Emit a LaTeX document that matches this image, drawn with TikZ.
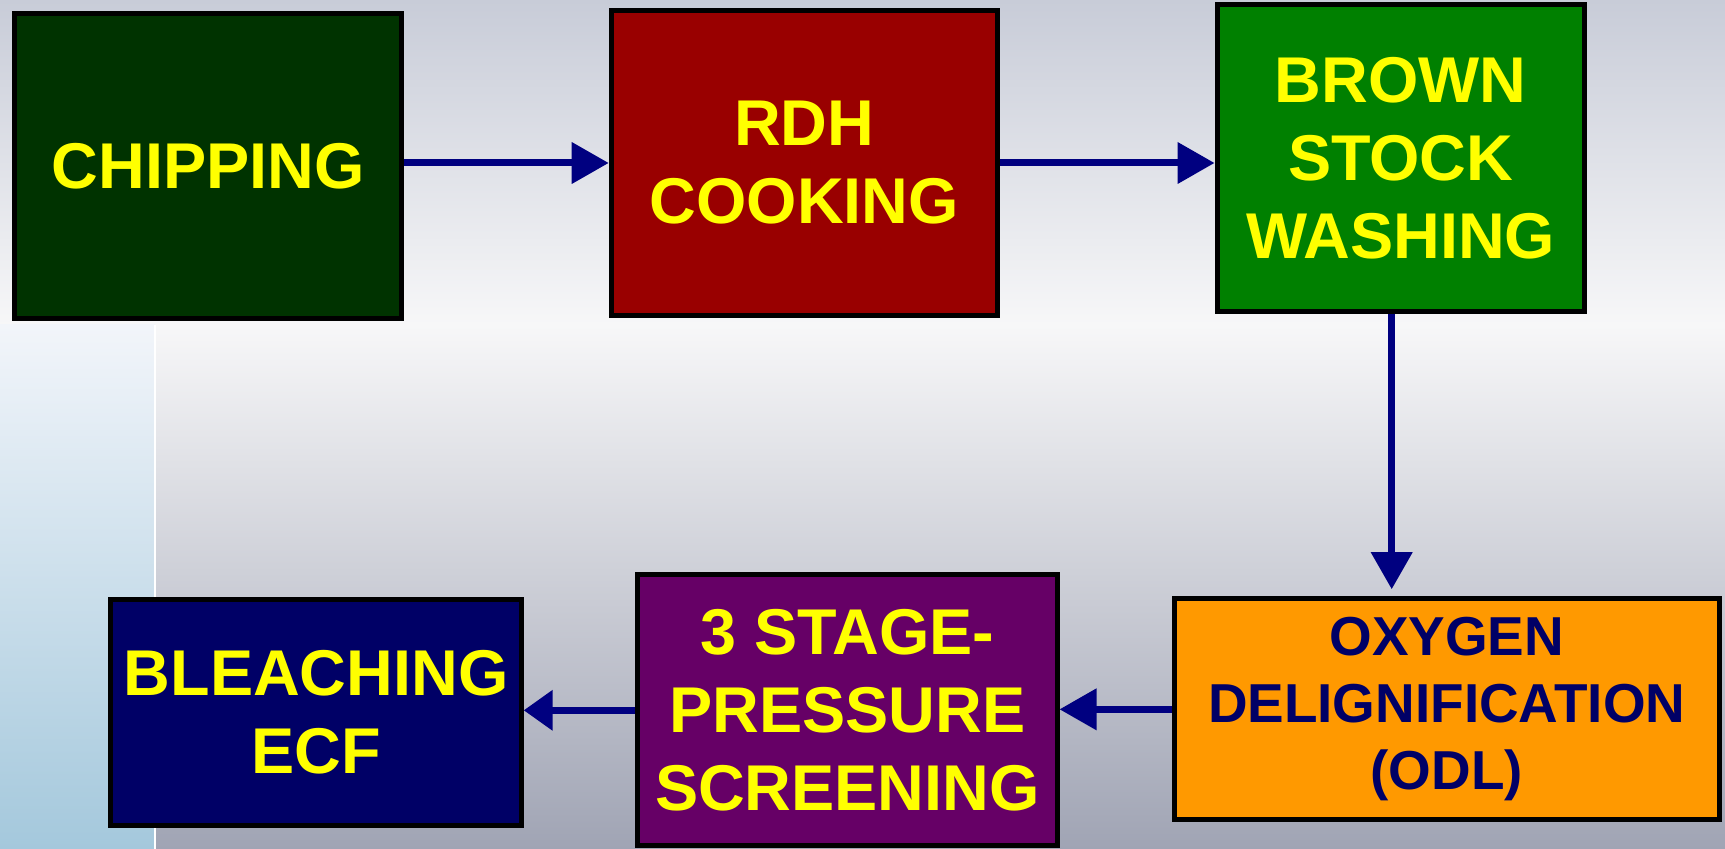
\documentclass[tikz,border=0pt]{standalone}
\usepackage{fontspec}
\setmainfont{Liberation Sans}
\usetikzlibrary{arrows.meta}

\definecolor{chipgreen}{HTML}{003300}
\definecolor{rdhred}{HTML}{990000}
\definecolor{washgreen}{HTML}{008000}
\definecolor{odlorange}{HTML}{FF9900}
\definecolor{screenpurple}{HTML}{660066}
\definecolor{bleachnavy}{HTML}{000066}
\definecolor{stageyellow}{HTML}{FFFF00}
\definecolor{odltext}{HTML}{000066}
\definecolor{arrowblue}{HTML}{000080}
\definecolor{bgtop}{HTML}{C8CCD8}
\definecolor{bgmid}{HTML}{F7F7F8}
\definecolor{bgbottom}{HTML}{A0A4B4}
\definecolor{striptop}{HTML}{F2F5FA}
\definecolor{stripbottom}{HTML}{A4C8DC}

\tikzstyle{stage} = [
    rectangle,
    draw=black,
    line width=0.05cm,
    text=stageyellow,
    align=center,
    font=\fontsize{18.4}{22.2}\selectfont\bfseries
]
\tikzstyle{arrow} = [line width=0.07cm, draw=arrowblue, -{Triangle[length=0.37cm, width=0.40cm]}]

\begin{document}
\begin{tikzpicture}[node distance=5.96cm, x=0.01cm, y=0.01cm]
    % slide background
    \useasboundingbox (0,0) rectangle (1725,-849);
    \shade[top color=bgtop, bottom color=bgmid] (0,0) rectangle (1725,-325);
    \shade[top color=bgmid, bottom color=bgbottom] (0,-325) rectangle (1725,-849);
    \shade[top color=striptop, bottom color=stripbottom] (0,-325) rectangle (155,-849);
    \draw[white, line width=0.02cm] (155,-325) -- (155,-849);

    \node (chip) [stage, fill=chipgreen, minimum width=3.86cm, minimum height=3.05cm] at (208,-166) {CHIPPING};
    \node (rdh) [stage, fill=rdhred, minimum width=3.86cm, minimum height=3.05cm, right of=chip, yshift=0.03cm] {RDH\\COOKING};
    \node (brown) [stage, fill=washgreen, minimum width=3.67cm, minimum height=3.06cm, right of=rdh, yshift=0.05cm] {BROWN\\STOCK\\WASHING};
    \node (odl) [
        stage,
        fill=odlorange,
        text=odltext,
        font=\fontsize{15.6}{19.1}\selectfont\bfseries,
        minimum width=5.45cm,
        minimum height=2.21cm,
        node distance=5.51cm,
        below of=brown,
        xshift=0.46cm
    ] {OXYGEN\\DELIGNIFICATION\\(ODL)};
    \node (screen) [stage, fill=screenpurple, minimum width=4.19cm, minimum height=2.71cm, left of=odl, xshift=-0.03cm, yshift=-0.01cm] {3 STAGE-\\PRESSURE\\SCREENING};
    \node (bleach) [stage, fill=bleachnavy, minimum width=4.10cm, minimum height=2.26cm, left of=screen, xshift=0.65cm, yshift=-0.02cm] {BLEACHING\\ECF};

    \draw [arrow] (rdh.west -| chip.east) -- (rdh.west);
    \draw [arrow] (rdh.east) -- (rdh.east -| brown.west);
    \draw [arrow, shorten >=0.07cm] ([xshift=-0.09cm]brown.south) -- ([xshift=-0.09cm]brown.south |- odl.north);
    \draw [arrow] (odl.west) -- (odl.west -| screen.east);
    \draw [arrow, -{Triangle[length=0.29cm, width=0.39cm]}] (screen.west) -- (screen.west -| bleach.east);
\end{tikzpicture}
\end{document}
